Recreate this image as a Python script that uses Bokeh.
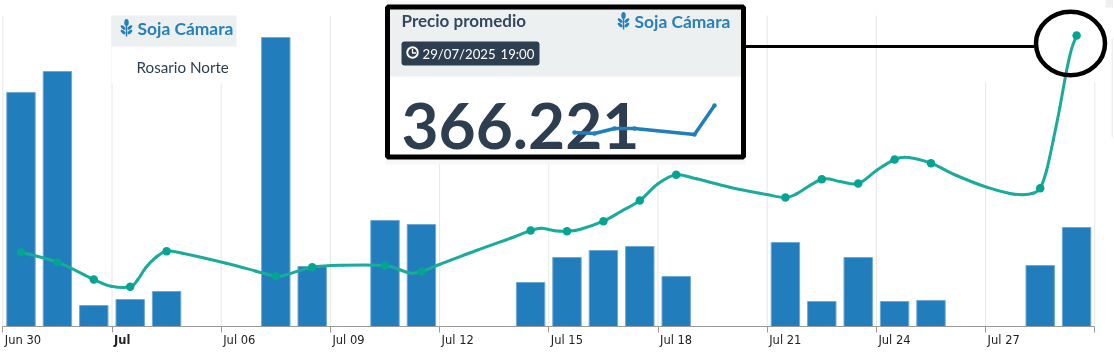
from bokeh.plotting import figure
from bokeh.embed import file_html
from bokeh.resources import INLINE
from bokeh.models import Range1d, FixedTicker, LinearAxis
from bokeh.core.properties import value

W, H = 1114, 357

# ---- data ----
tick_index = [0, 3, 6, 9, 12, 15, 18, 21, 24, 27, 30]
tick_labels = ["Jun 30", "Jul", "Jul 06", "Jul 09", "Jul 12", "Jul 15", "Jul 18", "Jul 21", "Jul 24", "Jul 27"]
day_index = [0, 1, 2, 3, 4, 7, 8, 10, 11, 14, 15, 16, 17, 18, 21, 22, 23, 24, 25, 28, 29]
volume = [234, 255, 21, 27, 35, 289, 60, 106, 102, 44, 69, 76, 80, 50, 84, 25, 69, 25, 26, 61, 99]
price = [359720, 359420, 358901, 358682, 359750, 359000, 359270, 359321, 359141, 360371, 360350,
         360650, 361271, 362042, 361361, 361910, 361781, 362501, 362390, 361640, 366221]
# course of the price line between the marked days
between_index = [2.974, 3.705, 3.936, 4.211, 4.934, 6.135, 6.960, 7.785, 9.340, 10.899, 11.220,
                 11.998, 13.007, 14.005, 14.794, 15.160, 15.847, 16.993, 17.999, 19.054, 19.970,
                 20.979, 21.803, 23.0, 24.002, 24.871, 26.201, 27.026, 27.667, 28.032, 28.307,
                 28.675, 28.857, 29.041, 29.225, 29.362]
between_price = [358700, 358892, 359270, 359570, 359690, 359390, 359150, 359042, 359330, 359192, 359090,
                 359351, 359771, 360161, 360440, 360362, 360401, 360950, 361772, 361922, 361670,
                 361451, 361472, 361841, 362171, 362561, 362021, 361670, 361481, 361442, 361490,
                 362171, 363071, 364070, 365171, 365822]
spark_index = [0, 1, 2, 3, 6, 7]
spark_price = [363521, 363421, 363921, 363921, 363321, 366221]
card_title = "Precio promedio"
product = "Soja Cámara"
place = "Rosario Norte"
stamp_date = "29/07/2025"
stamp_time = "19:00"
big_value = "366.221"

# ---- scale calibration ----
X0, DX = 3.3, 36.4       # px of index 0, px per index
Y0 = 327.0               # px of the axis
P_K = 30.0               # price units per px on the line
P_REF, P_PY = 366221, 36
S_K = 100.0
S_REF, S_PY = 366221, 106
SX0, SDX = 575.0, 20.0

p = figure(width=W, height=H, output_backend="svg", toolbar_location=None,
           min_border=0, x_axis_type=None, y_axis_type=None,
           x_range=Range1d(-X0 / DX, (W - X0) / DX),
           y_range=Range1d(-(H - Y0), Y0),
           styles={"position": "fixed", "left": "-1px", "top": "-1px"})
p.outline_line_color = None
p.xgrid.visible = False
p.ygrid.visible = False
p.background_fill_color = "white"
p.border_fill_color = "white"

p.extra_y_ranges["price"] = Range1d(P_REF - (H - P_PY) * P_K, P_REF + P_PY * P_K)
p.extra_x_ranges["spark_x"] = Range1d(-SX0 / SDX, (W - SX0) / SDX)
p.extra_y_ranges["spark_y"] = Range1d(S_REF - (H - S_PY) * S_K, S_REF + S_PY * S_K)
p.extra_x_ranges["px"] = Range1d(0, W)
p.extra_y_ranges["py"] = Range1d(H, 0)
OV = dict(x_range_name="px", y_range_name="py")

# grid
p.segment(x0=tick_index, x1=tick_index, y0=[0] * len(tick_index), y1=[Y0 - 16] * len(tick_index),
          line_color="#e6e6e6", line_width=1)
# white patch hiding the top of the last grid lines
p.quad(left=[980], right=[1102], top=[0], bottom=[83], fill_color="white", line_color=None, **OV)

# bars
p.vbar(x=[i + 0.5 for i in day_index], top=volume, bottom=0, width=0.78,
       fill_color="#217dbb", line_color="#6ea8d6", line_width=1)

# axis
ax = LinearAxis(ticker=FixedTicker(ticks=tick_index), fixed_location=0, bounds=(0, 30))
ax.axis_line_color = "#999999"
ax.major_tick_line_color = "#999999"
ax.major_tick_in = 0
ax.major_tick_out = 6
ax.minor_tick_line_color = None
ax.major_label_overrides = {t: "" for t in tick_index}
p.add_layout(ax, "below")

# tick labels
for t, lab in zip(tick_index, tick_labels):
    p.text(x=[t], y=[-6.5], text=[lab], text_font=value("DejaVu Sans"),
           text_font_size="11.5px", text_color="#222222", x_offset=2,
           text_font_style="bold" if lab == "Jul" else "normal",
           text_align="left", text_baseline="top")

# price line
line_x = [i + 0.5 for i in day_index]
knots = sorted(list(zip(line_x, price)) + list(zip(between_index, between_price)))
kx = [k[0] for k in knots]
ky = [k[1] for k in knots]
n = len(kx)
t0 = 1 / 6
cx0, cy0, cx1, cy1 = [], [], [], []
for i in range(n - 1):
    a, d = max(i - 1, 0), min(i + 2, n - 1)
    cx0.append(kx[i] + (kx[i + 1] - kx[a]) * t0)
    cy0.append(ky[i] + (ky[i + 1] - ky[a]) * t0)
    cx1.append(kx[i + 1] - (kx[d] - kx[i]) * t0)
    cy1.append(ky[i + 1] - (ky[d] - ky[i]) * t0)
p.bezier(x0=kx[:-1], y0=ky[:-1], x1=kx[1:], y1=ky[1:], cx0=cx0, cy0=cy0, cx1=cx1, cy1=cy1,
         line_color="#1aab9b", line_width=3, line_cap="round", y_range_name="price")
p.scatter(x=line_x, y=price, size=8.5, fill_color="#05a391", line_color=None, y_range_name="price")

# small product tag, top left
p.quad(left=[112], right=[237], top=[47], bottom=[84], fill_color="white", line_color=None, **OV)
p.quad(left=[112], right=[237], top=[16], bottom=[47], fill_color="#ecf0f1", line_color=None, **OV)
p.text(x=[138], y=[29], text=[product], text_font=value("Lato"), text_font_style="bold",
       text_font_size="17.4px", text_color="#2980b9", text_baseline="middle", **OV)
p.text(x=[137], y=[67], text=[place], text_font=value("Lato"), text_font_size="15.2px",
       text_color="#2c3e50", text_baseline="middle", **OV)

# page edge remains
p.quad(left=[1106, 1112], right=[1115, 1115], top=[0, 39], bottom=[8, 138], fill_color="#eef0f0", line_color=None, **OV)


def wheat(cx, cy, color):
    p.ellipse(x=[cx], y=[cy - 6], width=4.5, height=7, fill_color=color, line_color=None, **OV)
    p.ellipse(x=[cx - 3.4, cx + 3.4, cx - 3.4, cx + 3.4], y=[cy - 1, cy - 1, cy + 3.5, cy + 3.5],
              width=6, height=3, angle=[-0.7, 0.7, -0.7, 0.7], fill_color=color, line_color=None, **OV)
    p.segment(x0=[cx], x1=[cx], y0=[cy - 3], y1=[cy + 8], line_color=color, line_width=1.5, **OV)


wheat(127, 29, "#2980b9")

# card
p.quad(left=[386], right=[746], top=[1], bottom=[165], fill_color="#f8f8f8", line_color=None, **OV)
p.quad(left=[388], right=[744], top=[7.5], bottom=[157.5], fill_color="white", line_color=None, **OV)
p.quad(left=[388], right=[744], top=[7.5], bottom=[77], fill_color="#ecf0f1", line_color=None, **OV)
p.text(x=[402], y=[21], text=[card_title], text_font=value("Lato"), text_font_style="bold",
       text_font_size="17px", text_color="#34495e", text_baseline="middle", **OV)
p.text(x=[635], y=[22], text=[product], text_font=value("Lato"), text_font_style="bold",
       text_font_size="17.4px", text_color="#2980b9", text_baseline="middle", **OV)
wheat(624, 22, "#2980b9")
p.quad(left=[402], right=[540], top=[42], bottom=[66], fill_color="#2c3e50", line_color=None,
       border_radius=3, **OV)
p.ellipse(x=[413], y=[53], width=10.5, height=10.5, fill_color=None, line_color="white", line_width=2, **OV)
p.multi_line(xs=[[413, 413, 416.5]], ys=[[49.5, 53.5, 53.5]], line_color="white", line_width=1.3, **OV)
p.text(x=[423], y=[54], text=[stamp_date], text_font=value("Lato"), text_font_size="13.2px",
       text_color="white", text_baseline="middle", **OV)
p.text(x=[501], y=[54], text=[stamp_time], text_font=value("Lato"), text_font_size="13.2px",
       text_color="white", text_baseline="middle", **OV)
p.text(x=[402], y=[126], text=[big_value], text_font=value("Lato"), text_font_style="bold",
       text_font_size="64px", text_color="#2c3e50", text_baseline="middle", **OV)
p.line(x=spark_index, y=spark_price, line_color="#217dbb", line_width=3.5,
       x_range_name="spark_x", y_range_name="spark_y")
p.scatter(x=spark_index, y=spark_price, size=4.5, fill_color="#217dbb", line_color=None,
          x_range_name="spark_x", y_range_name="spark_y")
p.quad(left=[388], right=[744], top=[7.5], bottom=[157.5], fill_color=None, line_color="black",
       line_width=5, **OV)

# callout
p.segment(x0=[746], x1=[1035], y0=[47], y1=[47], line_color="black", line_width=3, **OV)
p.ellipse(x=[1071], y=[44], width=69, height=63.5, fill_color=None, line_color="black", line_width=4.5, **OV)

open("out.html", "w").write(file_html(p, INLINE))
